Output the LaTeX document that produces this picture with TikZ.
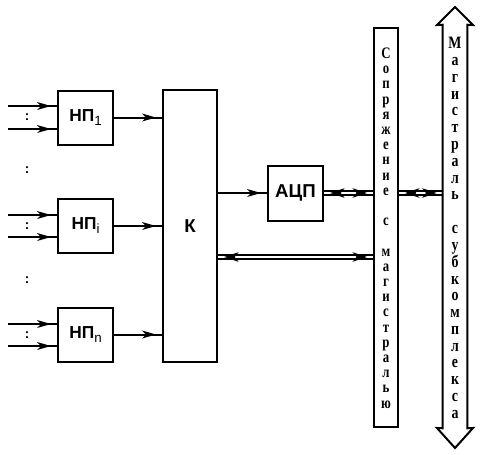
\documentclass[tikz,border=0pt]{standalone}
\usepackage{fontspec}
\setmainfont{Liberation Serif}
\newfontfamily\sansgras{Liberation Sans}
\usetikzlibrary{decorations.markings}

\tikzstyle{bloc}=[draw,line width=1.5pt,inner sep=0pt,font=\sansgras\bfseries\fontsize{13pt}{15pt}\selectfont]
\tikzstyle{np}=[bloc,minimum width=41.25pt,minimum height=40.5pt]
\tikzstyle{fleche}=[line width=1.5pt,postaction={decorate,decoration={markings,
  mark=at position -4.5pt with {\fill (0,0) -- (-10.5pt,3pt) -- (-7.5pt,0) -- (-10.5pt,-3pt) -- cycle;}}}]
\tikzstyle{bus}=[double,double distance=2.2pt,line width=0.9pt,postaction={decorate,decoration={markings,
  mark=at position 4.5pt with {\fill (0,0) -- (11pt,3.6pt) -- (8pt,0) -- (11pt,-3.6pt) -- cycle;},
  mark=at position -4.5pt with {\fill (0,0) -- (-11pt,3.6pt) -- (-8pt,0) -- (-11pt,-3.6pt) -- cycle;}}}]
\tikzstyle{lettres}=[align=center,inner sep=0pt,xscale=0.8,transform shape]
\tikzstyle{points}=[inner sep=0pt,font=\sansgras\bfseries\fontsize{10pt}{12pt}\selectfont]
\newcommand{\ind}[1]{\raisebox{-3pt}{\fontsize{10pt}{10pt}\selectfont\mdseries #1}}
\newcommand{\serre}{\lineskiplimit=-100pt\relax}

\begin{document}
\begin{tikzpicture}[x=0.75pt,y=-0.75pt]
\useasboundingbox (0,0) rectangle (481,454);
% les trois blocs НП
\node[np] (np1) at (85.5,117.5) {НП\ind{1}};
\node[np] (npi) at (85.5,226)   {НП\ind{i}};
\node[np] (npn) at (85.5,334.5) {НП\ind{n}};
\node[bloc,minimum width=40.5pt,minimum height=204pt,font=\sansgras\bfseries\fontsize{14pt}{16pt}\selectfont] (k) at (190,226) {К};
\node[bloc,minimum width=41.25pt,minimum height=41.25pt,font=\sansgras\bfseries\fontsize{14pt}{16pt}\selectfont] (adc) at (295.5,193) {АЦП};
\node[bloc,line width=1.3pt,minimum width=18pt,minimum height=299.25pt] (sopr) at (386,227.5) {};
\node[minimum width=18pt,minimum height=302.25pt,inner sep=0pt] (mag) at (455,226.5) {};
% entrées
\coordinate (e1a) at (8,106);
\coordinate (e1b) at (8,129);
\coordinate (eia) at (8,215);
\coordinate (eib) at (8,237);
\coordinate (ena) at (8,324);
\coordinate (enb) at (8,346);
\draw[fleche] (e1a) -- (e1a -| np1.west);
\draw[fleche] (e1b) -- (e1b -| np1.west);
\draw[fleche] (eia) -- (eia -| npi.west);
\draw[fleche] (eib) -- (eib -| npi.west);
\draw[fleche] (ena) -- (ena -| npn.west);
\draw[fleche] (enb) -- (enb -| npn.west);
\node[points] (p1) at (27,117) {:};
\node[points] (p2) at (27,170) {:};
\node[points] (p3) at (27,226) {:};
\node[points] (p4) at (27,280) {:};
\node[points] (p5) at (27,335) {:};
% sorties vers К
\draw[fleche] (np1.east) -- (np1.east -| k.west);
\draw[fleche] (npi.east) -- (npi.east -| k.west);
\draw[fleche] (npn.east) -- (npn.east -| k.west);
\draw[fleche] (k.east |- adc.west) -- (adc.west);
% liaisons doubles
\coordinate (kb) at ([yshift=-23.25pt]k.east);
\draw[bus] (kb) -- (kb -| sopr.west);
\draw[bus] (adc.east) -- (adc.east -| sopr.west);
\draw[bus] (sopr.east |- adc.east) -- (mag.west |- adc.east);
% magistrale
\draw[line width=1.5pt,line join=miter] (mag.north west) -- (mag.south west) -- (437,428) -- (455,448) -- (473,428)
  -- (mag.south east) -- (mag.north east) -- (473,25) -- (455,7) -- (437,25) -- cycle;
% textes verticaux
\node[lettres,font={\bfseries\fontsize{12pt}{11.4pt}\selectfont\serre}] (sopr-t) at (386,228)
  {С\\о\\п\\р\\я\\ж\\е\\н\\и\\е\\~\\с\\~\\м\\а\\г\\и\\с\\т\\р\\а\\л\\ь\\ю};
\node[lettres,font={\bfseries\fontsize{13pt}{12.6pt}\selectfont\serre}] (mag-t) at (455,228)
  {М\\а\\г\\и\\с\\т\\р\\а\\л\\ь\\~\\с\\у\\б\\к\\о\\м\\п\\л\\е\\к\\с\\а};
\end{tikzpicture}
\end{document}
